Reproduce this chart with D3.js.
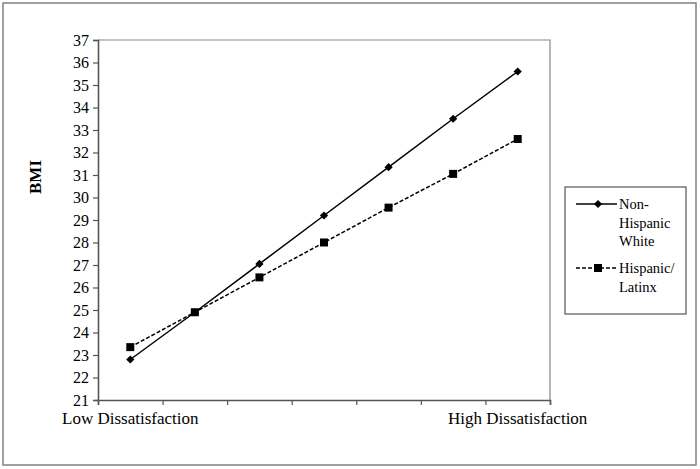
<!DOCTYPE html>
<html>
<head>
<meta charset="utf-8">
<script src="https://cdn.jsdelivr.net/npm/d3@7"></script>
<style>
  html, body { margin: 0; padding: 0; background: #fff; }
  svg { display: block; }
  svg text { font-family: "Times New Roman", "Liberation Serif", Tinos, "DejaVu Serif", serif !important; fill: #000; }
</style>
</head>
<body>
<svg id="chart" width="700" height="469" font-family="Times New Roman, Liberation Serif, serif"></svg>
<script>
// ---- data ----
const categories = ["1", "2", "3", "4", "5", "6", "7"];
const categoryLabels = ["Low Dissatisfaction", "", "", "", "", "", "High Dissatisfaction"];
const seriesNames = ["Non-Hispanic White", "Hispanic/Latinx"];
const nonHispanicWhite = [22.8, 24.9, 27.05, 29.2, 31.35, 33.5, 35.6];
const hispanicLatinx = [23.35, 24.9, 26.45, 28.0, 29.55, 31.05, 32.6];
const yTicks = [21, 22, 23, 24, 25, 26, 27, 28, 29, 30, 31, 32, 33, 34, 35, 36, 37];

// ---- layout ----
const svg = d3.select("#chart");
const L = 98, R = 550, T = 40, B = 400;

// outer frame
svg.append("rect").attr("x", 3).attr("y", 3).attr("width", 693).attr("height", 462)
  .attr("fill", "none").attr("stroke", "#808080").attr("stroke-width", 1.5);

const x = d3.scaleBand().domain(categories).range([L, R]).paddingInner(0).paddingOuter(0);
const xb = d3.scaleLinear().domain([0, categories.length]).range([L, R]);
const y = d3.scaleLinear().domain([21, 37]).range([B, T]);

// plot border (top/right)
svg.append("path").attr("d", `M${L},${T}H${R}V${B}`)
  .attr("fill", "none").attr("stroke", "#888").attr("stroke-width", 1.2);

// y axis
const yAxis = svg.append("g").attr("transform", `translate(${L},0)`)
  .call(d3.axisLeft(y).tickValues(yTicks).tickSize(5).tickPadding(4).tickFormat(d3.format("d")));
yAxis.attr("font-family", null);
yAxis.select(".domain").attr("stroke", "#555").attr("stroke-width", 1.6);
yAxis.selectAll(".tick line").attr("stroke", "#555").attr("stroke-width", 1.2);
yAxis.selectAll("text").style("font-size", "16px").attr("fill", "#000");

// x axis (ticks at band boundaries)
const xAxis = svg.append("g").attr("transform", `translate(0,${B})`)
  .call(d3.axisBottom(xb).tickValues(d3.range(0, categories.length + 1)).tickSize(5).tickFormat(""));
xAxis.select(".domain").attr("stroke", "#555").attr("stroke-width", 1.6);
xAxis.selectAll(".tick line").attr("stroke", "#555").attr("stroke-width", 1.2);

// category labels
svg.append("g").selectAll("text").data(categories).join("text")
  .attr("x", d => x(d) + x.bandwidth() / 2)
  .attr("y", 424)
  .attr("text-anchor", "middle")
  .style("font-size", "17px")
  .text((d, i) => categoryLabels[i]);

// y title
svg.append("text")
  .attr("transform", `translate(41,${(T + B) / 2 - 43}) rotate(-90)`)
  .attr("text-anchor", "middle")
  .style("font-size", "17px").style("font-weight", "bold")
  .text("BMI");

const cx = d => x(d) + x.bandwidth() / 2;
const diamond = d3.symbol().type(d3.symbolSquare).size(34);
const square = d3.symbol().type(d3.symbolSquare).size(64);

function drawSeries(values, dash, sym, rot) {
  const pts = categories.map((c, i) => [cx(c), y(values[i])]);
  svg.append("path").attr("d", d3.line()(pts))
    .attr("fill", "none").attr("stroke", "#000").attr("stroke-width", 1.5)
    .attr("stroke-dasharray", dash);
  svg.append("g").selectAll("path").data(pts).join("path")
    .attr("transform", d => `translate(${d[0]},${d[1]}) rotate(${rot})`)
    .attr("d", sym).attr("fill", "#000");
}
drawSeries(hispanicLatinx, "4,2", square, 0);
drawSeries(nonHispanicWhite, null, diamond, 45);

// legend
const lg = svg.append("g");
lg.append("rect").attr("x", 565).attr("y", 187).attr("width", 121).attr("height", 127)
  .attr("fill", "#fff").attr("stroke", "#555").attr("stroke-width", 1.2);
const legendItems = [
  { lines: ["Non-", "Hispanic", "White"], y0: 204, dash: null, sym: diamond, rot: 45 },
  { lines: ["Hispanic/", "Latinx"], y0: 268, dash: "4,2", sym: square, rot: 0 }
];
legendItems.forEach(it => {
  lg.append("line").attr("x1", 576).attr("x2", 617).attr("y1", it.y0).attr("y2", it.y0)
    .attr("stroke", "#000").attr("stroke-width", 1.5).attr("stroke-dasharray", it.dash);
  lg.append("path").attr("transform", `translate(598,${it.y0}) rotate(${it.rot})`).attr("d", it.sym).attr("fill", "#000");
  it.lines.forEach((t, k) => {
    lg.append("text").attr("x", 619).attr("y", it.y0 + 5 + k * 18.5)
      .style("font-size", "14.5px").text(t);
  });
});
</script>
</body>
</html>
